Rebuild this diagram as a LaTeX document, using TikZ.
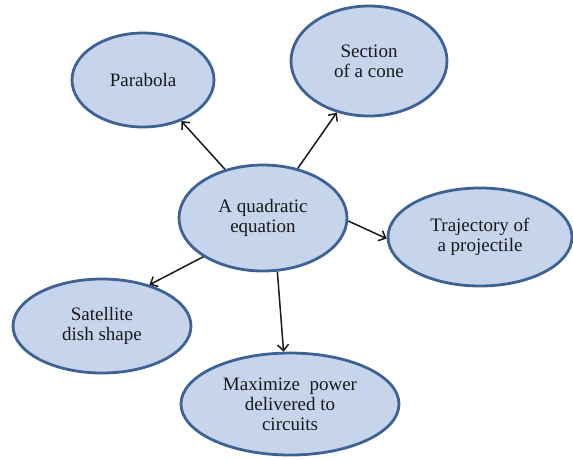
\documentclass[tikz,border=0pt]{standalone}
\usepackage{fontspec}
\setmainfont{Liberation Serif}
\usetikzlibrary{shapes.geometric,arrows.meta}
\definecolor{ellfill}{RGB}{198,213,236}
\definecolor{elldraw}{RGB}{62,98,148}
\definecolor{txt}{RGB}{25,25,25}
\begin{document}
\begin{tikzpicture}[x=1pt,y=-1pt,
  bubble/.style={ellipse, draw=elldraw, fill=ellfill, line width=2.8pt, inner sep=0pt,
    align=center, text=txt, font=\fontsize{19}{20}\selectfont},
  link/.style={draw=black!90, line width=1.5pt, -{Straight Barb[length=6pt,width=11pt]}}]
\useasboundingbox (0,0) rectangle (573,459);
\node[bubble, minimum width=168pt, minimum height=106pt] (c) at (263,218) {A quadratic\\equation};
\node[bubble, minimum width=142pt, minimum height=94pt] (p) at (143,80) {Parabola};
\node[bubble, minimum width=156pt, minimum height=110pt] (s) at (369,61) {Section\\of a cone};
\node[bubble, minimum width=184pt, minimum height=98pt] (t) at (480,237) {Trajectory of\\a projectile};
\node[bubble, minimum width=178pt, minimum height=94pt] (d) at (102,326) {Satellite\\dish shape};
\node[bubble, minimum width=218pt, minimum height=102pt] (m) at (290,404) {Maximize~ power\\delivered to\\circuits};
\draw[link] (c.128.7) -- (p.-47.8);
\draw[link] (c.55.2) -- (s.238.4);
\draw[link] (c.-2) -- (t.181);
\draw[link] (c.213.7) -- (d.41.7);
\draw[link] (c.-75.5) -- (m.97.7);
\end{tikzpicture}
\end{document}
